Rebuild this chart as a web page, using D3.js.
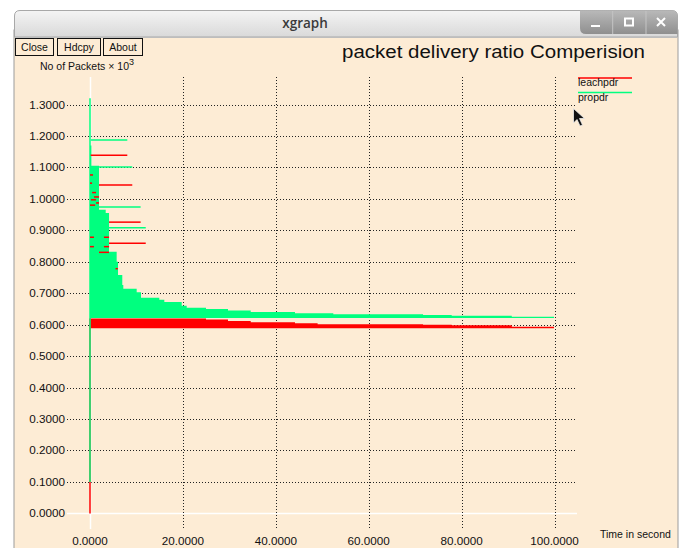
<!DOCTYPE html>
<html><head><meta charset="utf-8">
<script src="https://cdn.jsdelivr.net/npm/d3@7/dist/d3.min.js"></script>
<style>html,body{margin:0;padding:0;background:#fff;overflow:hidden}</style>
</head><body><svg id="c" width="683" height="548"></svg>
<script>
// ---------- data ----------
const xTicks = [0, 20, 40, 60, 80, 100];
const xTickLabels = ["0.0000", "20.0000", "40.0000", "60.0000", "80.0000", "100.0000"];
const yTicks = [0, 0.1, 0.2, 0.3, 0.4, 0.5, 0.6, 0.7, 0.8, 0.9, 1.0, 1.1, 1.2, 1.3];
const yTickLabels = ["0.0000","0.1000","0.2000","0.3000","0.4000","0.5000","0.6000","0.7000","0.8000","0.9000","1.0000","1.1000","1.2000","1.3000"];
const seriesNames = ["leachpdr", "propdr"];
const seriesColors = ["#ff0000", "#00ff7f"];

// propdr : stepped band (x where each step starts, top value of the step)
const propX   = [0, 0.3, 1.94, 3.38, 4.1, 5.74, 6.03, 6.95, 7.17, 10.05, 10.98, 14.92, 16.0, 19.74, 20.82, 24.97, 29.71, 34.6, 44.13, 52.38, 71.7, 77.87, 90.8, 99.9];
const propTop = [1.17, 1.105, 0.965, 0.955, 0.832, 0.80, 0.758, 0.726, 0.714, 0.703, 0.686, 0.679, 0.672, 0.660, 0.654, 0.650, 0.645, 0.640, 0.636, 0.633, 0.631, 0.628, 0.625, 0.625];
const propBottom = 0.6215;
const propSpine = [0.1, 1.32];           // value range of first sample at t = 0
const propLineY  = [1.187, 1.101, 0.974, 0.908];
const propLineX0 = [0.15, 1.94, 0.2, 4.1];
const propLineX1 = [8.03, 9.1, 10.9, 12.0];

// leachpdr : stepped band
const leachX   = [0, 24.97, 29.71, 34.6, 44.13, 49.0, 71.7, 77.87, 90.8, 99.9];
const leachTop = [0.620, 0.6165, 0.612, 0.6076, 0.6045, 0.6015, 0.600, 0.598, 0.5936, 0.5936];
const leachBottom = 0.589;
const leachSpine = [0.0, 0.62];
const leachLineY  = [1.139, 1.044, 0.926, 0.859, 1.076, 1.050, 1.020, 1.006, 0.997, 0.987, 0.980, 0.878, 0.878, 0.848, 0.848, 0.830, 0.778];
const leachLineX0 = [0.15, 1.94, 4.1, 4.1, 0.0, 0.0, 0.45, 0.85, 0.2, 1.3, 0.0, 0.0, 3.0, 0.0, 3.0, 1.94, 5.5];
const leachLineX1 = [8.03, 9.1, 10.9, 12.0, 0.65, 0.45, 1.3, 1.94, 1.3, 1.94, 1.1, 0.85, 4.1, 0.85, 4.1, 4.1, 6.0];

// ---------- drawing ----------
const svg = d3.select("#c");
const BG = "#fdecd5";
const FONT = "'Liberation Sans', Arial, sans-serif";

// window frame
const defs = svg.append("defs");
const g1 = defs.append("linearGradient").attr("id","tb").attr("x1",0).attr("y1",0).attr("x2",0).attr("y2",1);
g1.append("stop").attr("offset","0%").attr("stop-color","#f4f4f4");
g1.append("stop").attr("offset","100%").attr("stop-color","#d9d9d9");
const g2 = defs.append("linearGradient").attr("id","cb").attr("x1",0).attr("y1",0).attr("x2",0).attr("y2",1);
g2.append("stop").attr("offset","0%").attr("stop-color","#b9b9b9");
g2.append("stop").attr("offset","100%").attr("stop-color","#8f8f8f");

svg.append("rect").attr("x",14).attr("y",30).attr("width",664).attr("height",540)
  .attr("fill",BG).attr("stroke","#9c9c9c").attr("stroke-width",1);
svg.append("path").attr("d","M14.5,37 L14.5,16 Q14.5,10.5 20,10.5 L672,10.5 Q677.5,10.5 677.5,16 L677.5,37 Z")
  .attr("fill","url(#tb)").attr("stroke","#a8a8a8");
svg.append("path").attr("d","M580,10.5 L672,10.5 Q677.5,10.5 677.5,16 L677.5,34 L586,34 Q580,34 580,28 Z")
  .attr("fill","url(#cb)");
[612.7, 646].forEach(x => svg.append("line").attr("x1",x).attr("x2",x).attr("y1",11).attr("y2",34).attr("stroke","#c4c4c4"));
svg.append("line").attr("x1",591).attr("x2",600).attr("y1",26).attr("y2",26).attr("stroke","#fff").attr("stroke-width",2);
svg.append("rect").attr("x",625).attr("y",18.5).attr("width",8).attr("height",7).attr("fill","none").attr("stroke","#fff").attr("stroke-width",2);
svg.append("path").attr("d","M657,18 L665,26 M665,18 L657,26").attr("stroke","#fff").attr("stroke-width",2);
svg.append("line").attr("x1",15).attr("x2",677).attr("y1",37.5).attr("y2",37.5).attr("stroke","#bdbdbd");
svg.append("text").attr("x",305).attr("y",28).attr("text-anchor","middle")
  .attr("font-family","'Open Sans', 'DejaVu Sans', sans-serif").attr("font-weight",600).attr("font-size",13.5)
  .attr("fill","#3a3a3a").text("xgraph");

// buttons
const btns = [["Close",15,38],["Hdcpy",57,43],["About",103,39]];
btns.forEach(([t,x,w]) => {
  svg.append("rect").attr("x",x+0.5).attr("y",38.5).attr("width",w).attr("height",17).attr("fill",BG).attr("stroke","#111");
  svg.append("text").attr("x",x+w/2+0.5).attr("y",51).attr("text-anchor","middle")
    .attr("font-family",FONT).attr("font-size",10.5).attr("fill","#111").text(t);
});

// scales
const x = d3.scaleLinear().domain([0,100]).range([90,554.5]);
const y = d3.scaleLinear().domain([0,1.3]).range([513.4,104.5]);
const gridL = 67, gridR = 577, gridT = 77, gridB = 529;

// grid
const grid = svg.append("g");
yTicks.forEach(v => {
  grid.append("line").attr("x1",gridL).attr("x2",gridR).attr("y1",Math.round(y(v))+0.5).attr("y2",Math.round(y(v))+0.5)
    .attr("stroke", v===0 ? "#ffffff" : "#222").attr("stroke-width", v===0 ? 1.5 : 1)
    .attr("stroke-dasharray", v===0 ? null : "1,2");
});
xTicks.forEach(v => {
  grid.append("line").attr("y1",gridT).attr("y2",gridB).attr("x1",Math.round(x(v))+0.5).attr("x2",Math.round(x(v))+0.5)
    .attr("stroke", v===0 ? "#ffffff" : "#222").attr("stroke-width", v===0 ? 1.5 : 1)
    .attr("stroke-dasharray", v===0 ? null : "1,2");
});

// tick labels
yTicks.forEach((v,i) => {
  svg.append("text").attr("x",65).attr("y",y(v)+4).attr("text-anchor","end")
    .attr("font-family",FONT).attr("font-size",11.7).attr("fill","#111").text(yTickLabels[i]);
});
xTicks.forEach((v,i) => {
  svg.append("text").attr("x",x(v)).attr("y",545).attr("text-anchor","middle")
    .attr("font-family",FONT).attr("font-size",11.7).attr("fill","#111").text(xTickLabels[i]);
});

// axis titles
const yl = svg.append("text").attr("x",40).attr("y",70).attr("font-family",FONT).attr("font-size",10.5).attr("fill","#111");
yl.append("tspan").text("No of Packets \u00d7 10");
yl.append("tspan").attr("dy",-5).attr("font-size",9).text("3");
svg.append("text").attr("x",600).attr("y",538).attr("font-family",FONT).attr("font-size",10.5).attr("fill","#111").text("Time in second");
svg.append("text").attr("x",342).attr("y",58).attr("font-family",FONT).attr("font-size",17.5).attr("fill","#111")
  .attr("textLength",303).attr("lengthAdjust","spacingAndGlyphs").text("packet delivery ratio Comperision");

// series bands
function band(xs, tops, bottom) {
  const pts = xs.map((v,i) => ({x:v, t:tops[i]}));
  return d3.area().curve(d3.curveStepAfter).x(d => x(d.x)).y0(y(bottom)).y1(d => y(d.t))(pts);
}
const plot = svg.append("g");
// leachpdr
plot.append("line").attr("x1",x(0)).attr("x2",x(0)).attr("y1",y(leachSpine[0])).attr("y2",y(leachSpine[1]))
  .attr("stroke",seriesColors[0]).attr("stroke-width",1.5);
plot.append("path").attr("d",band(leachX, leachTop, leachBottom)).attr("fill",seriesColors[0]);
// propdr
plot.append("line").attr("x1",x(0)).attr("x2",x(0)).attr("y1",y(propSpine[0])).attr("y2",y(propSpine[1]))
  .attr("stroke",seriesColors[1]).attr("stroke-width",1.5);
plot.append("path").attr("d",band(propX, propTop, propBottom)).attr("fill",seriesColors[1]);
propLineY.forEach((v,i) => plot.append("line").attr("x1",x(propLineX0[i])).attr("x2",x(propLineX1[i]))
  .attr("y1",y(v)).attr("y2",y(v)).attr("stroke",seriesColors[1]).attr("stroke-width",1.5));
leachLineY.forEach((v,i) => plot.append("line").attr("x1",x(leachLineX0[i])).attr("x2",x(leachLineX1[i]))
  .attr("y1",y(v)).attr("y2",y(v)).attr("stroke",seriesColors[0]).attr("stroke-width",1.5));

// legend
seriesNames.forEach((n,i) => {
  const ly = 78 + i*14.5;
  svg.append("line").attr("x1",578).attr("x2",632).attr("y1",ly).attr("y2",ly).attr("stroke",seriesColors[i]).attr("stroke-width",1.5);
  svg.append("text").attr("x",578).attr("y",ly+8).attr("font-family",FONT).attr("font-size",10.5).attr("fill","#111").text(n);
});

// mouse pointer
svg.append("path").attr("d","M573.5,108.5 L573.5,123 L577,119.5 L580,126 L582.5,125 L579.5,118.5 L584.5,118.5 Z")
  .attr("fill","#111").attr("stroke","#eee").attr("stroke-width",0.8);
</script>
</body></html>
